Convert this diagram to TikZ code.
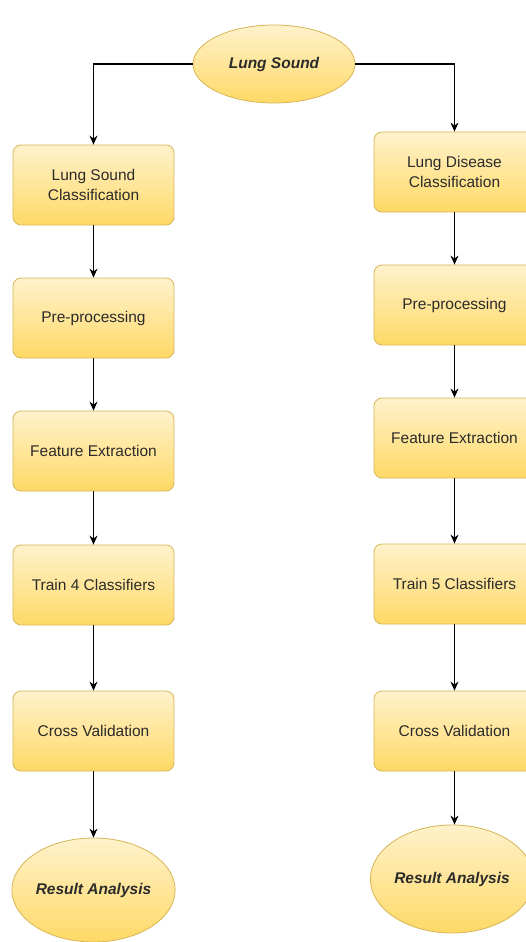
\documentclass[tikz,border=0pt]{standalone}
\usepackage{fontspec}
\setmainfont{Liberation Sans}
\usetikzlibrary{arrows.meta,shapes.geometric}
\definecolor{yTop}{HTML}{FFF2CC}
\definecolor{yBot}{HTML}{FFD966}
\definecolor{yEdge}{HTML}{D6B656}
\definecolor{txt}{HTML}{2B2B2B}
\tikzset{
  procbox/.style={rectangle, rounded corners=8pt, draw=yEdge, line width=0.8pt,
    top color=yTop, bottom color=yBot, minimum width=161pt, minimum height=80pt,
    align=center, text=txt, font=\fontsize{15.5}{20}\selectfont, inner sep=2pt},
  termnode/.style={ellipse, draw=yEdge, line width=0.8pt, top color=yTop, bottom color=yBot,
    inner sep=0pt, text=txt, font=\fontsize{15.5}{20}\selectfont\bfseries\itshape},
  flow/.style={draw=black, line width=1.2pt, -{Stealth[length=9pt,width=8pt]}}
}
\begin{document}
\begin{tikzpicture}[x=1pt,y=-1pt]
\fill[white] (0,0) rectangle (526,942);
\useasboundingbox (0,0) rectangle (526,942);
\clip (0,0) rectangle (526,942);
\node[termnode, minimum width=162pt, minimum height=78pt] (top) at (274,64) {Lung Sound};
% left column
\node[procbox] (L1) at (93.5,185) {Lung Sound\\Classification};
\node[procbox] (L2) at (93.5,318) {Pre-processing};
\node[procbox] (L3) at (93.5,451) {Feature Extraction};
\node[procbox] (L4) at (93.5,585) {Train 4 Classifiers};
\node[procbox] (L5) at (93.5,731) {Cross Validation};
\node[termnode, minimum width=160pt, minimum height=104pt] (L6) at (93.5,890) {Result Analysis};
% right column
\node[procbox] (R1) at (454.5,172) {Lung Disease\\Classification};
\node[procbox] (R2) at (454.5,305) {Pre-processing};
\node[procbox] (R3) at (454.5,438) {Feature Extraction};
\node[procbox] (R4) at (454.5,584) {Train 5 Classifiers};
\node[procbox] (R5) at (454.5,731) {Cross Validation};
\node[termnode, minimum width=158pt, minimum height=108pt] (R6) at (452,879) {Result Analysis};
% connectors
\draw[flow] (top.west) -| (L1.north);
\draw[flow] (top.east) -| (R1.north);
\draw[flow] (L1) -- (L2);
\draw[flow] (L2) -- (L3);
\draw[flow] (L3) -- (L4);
\draw[flow] (L4) -- (L5);
\draw[flow] (L5) -- (L6);
\draw[flow] (R1) -- (R2);
\draw[flow] (R2) -- (R3);
\draw[flow] (R3) -- (R4);
\draw[flow] (R4) -- (R5);
\draw[flow] (R5.south) -- (R5.south |- R6.north);
\end{tikzpicture}
\end{document}
